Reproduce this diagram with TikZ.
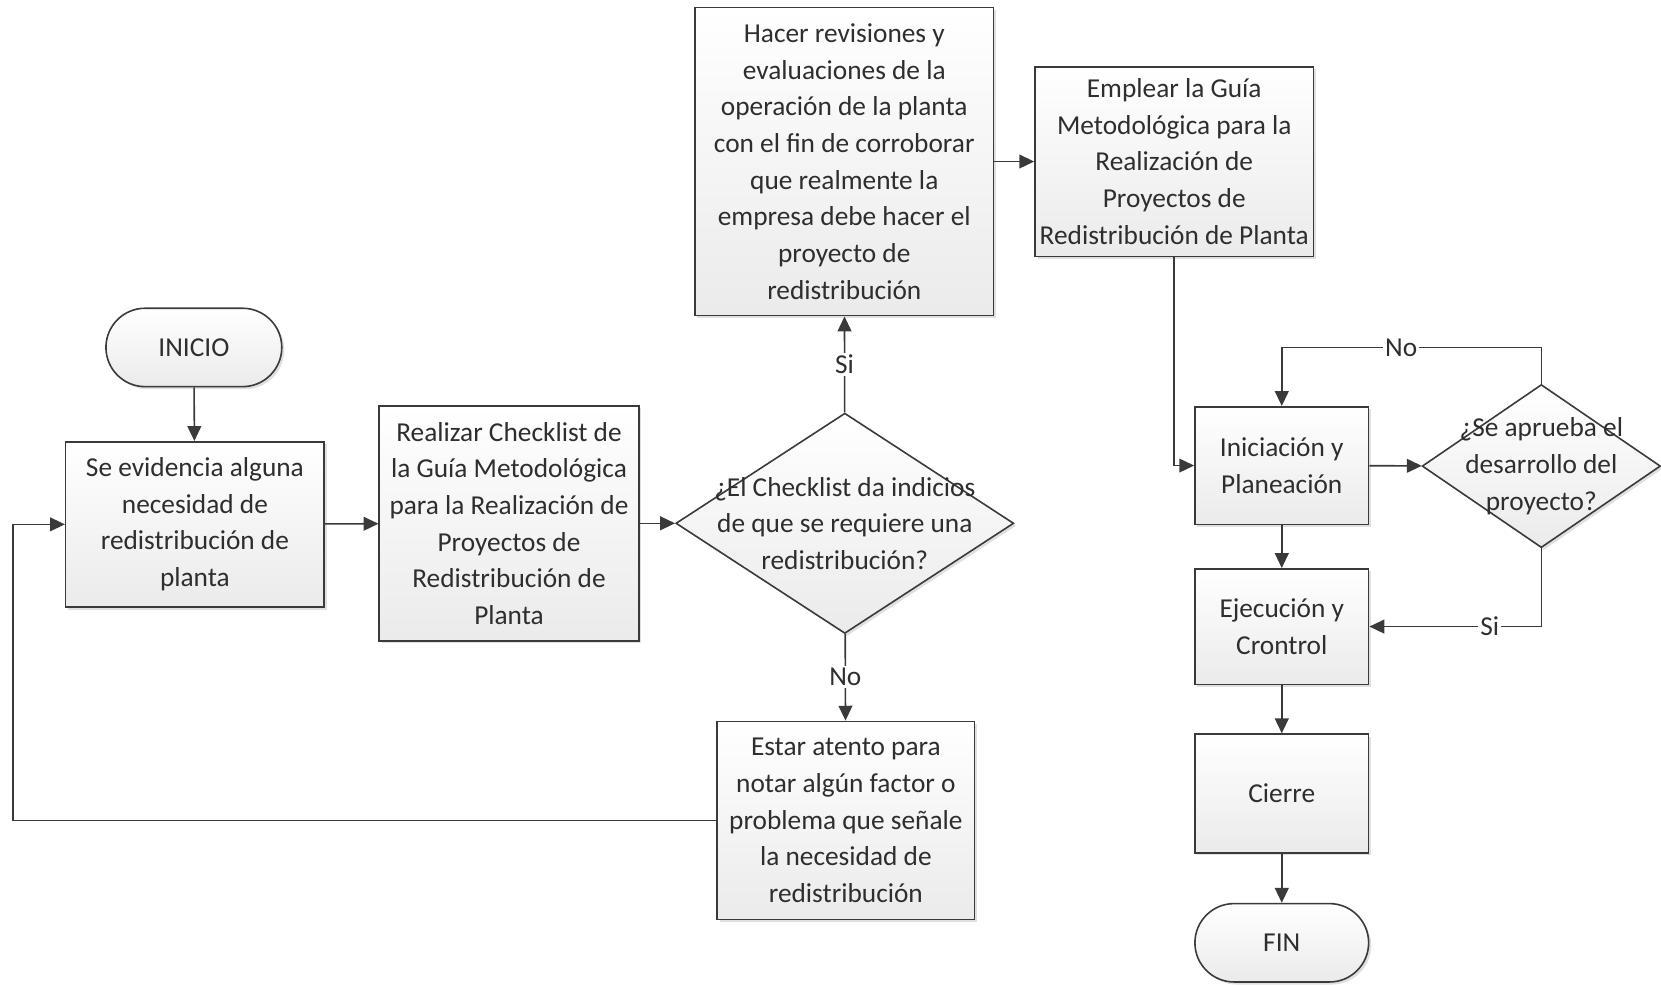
\documentclass[tikz,border=0pt]{standalone}
\usepackage{fontspec}
\setmainfont{Carlito}
\usetikzlibrary{arrows.meta,shadows,shapes.geometric,calc}
\definecolor{ink}{HTML}{3A3A3A}
\definecolor{txt}{HTML}{2E2E2E}
\tikzset{
  base/.style={draw=ink, line width=0.75pt, top color=white, bottom color=black!8,
    drop shadow={shadow xshift=1.2pt, shadow yshift=-1.2pt, fill=black, opacity=0.12},
    text=txt, align=center, inner sep=0pt, font=\fontsize{12.9}{17.3}\selectfont},
  procbox/.style={base, rectangle},
  term/.style={base, rectangle, rounded corners=18.5pt},
  decision/.style={base, diamond, minimum width=#1},
  qtext/.style={text=txt, align=center, inner sep=0pt, font=\fontsize{12.9}{17.3}\selectfont},
  flow/.style={draw=ink, line width=0.75pt, -{Triangle[length=7pt,width=6.5pt]}},
  lbl/.style={fill=white, inner sep=1pt, text=txt, font=\fontsize{12.9}{15}\selectfont},
}
\begin{document}
\begin{tikzpicture}[x=0.5pt, y=-0.5pt]
\useasboundingbox (0,0) rectangle (1568,929);

% start / end terminals
\node[term, minimum width=83pt, minimum height=37pt] (ini) at (183,328) {INICIO};
\node[term, minimum width=82pt, minimum height=37pt] (fin) at (1210,890) {FIN};

% left branch
\node[procbox, minimum width=122pt, minimum height=78pt] (a) at (184,495)
  {Se evidencia alguna\\necesidad de\\redistribución de\\planta};
\node[procbox, minimum width=122.5pt, minimum height=111pt] (b) at (480.5,494)
  {Realizar Checklist de\\la Guía Metodológica\\para la Realización de\\Proyectos de\\Redistribución de\\Planta};

% first decision
\node[decision=159.5pt, minimum height=104pt] (d1) at (797.5,494) {};
\node[qtext] (d1t) at (d1.center)
  {¿El Checklist da indicios\\de que se requiere una\\redistribución?};

\node[procbox, minimum width=141pt, minimum height=145.5pt] (c) at (797,152.5)
  {Hacer revisiones y\\evaluaciones de la\\operación de la planta\\con el fin de corroborar\\que realmente la\\empresa debe hacer el\\proyecto de\\redistribución};
\node[procbox, minimum width=131.5pt, minimum height=89.5pt] (e) at (1108.5,152.5)
  {Emplear la Guía\\Metodológica para la\\Realización de\\Proyectos de\\Redistribución de Planta};
\node[procbox, minimum width=121.5pt, minimum height=93.5pt] (f) at (798.5,774.5)
  {Estar atento para\\notar algún factor o\\problema que señale\\la necesidad de\\redistribución};

% project phases
\node[procbox, minimum width=82pt, minimum height=55.5pt] (g) at (1210,439.5)
  {Iniciación y\\Planeación};
\node[decision=112.5pt, minimum height=77pt] (d2) at (1455,440) {};
\node[qtext] (d2t) at (d2.center) {¿Se aprueba el\\desarrollo del\\proyecto?};
\node[procbox, minimum width=82pt, minimum height=54.5pt] (h) at (1210,591.5)
  {Ejecución y\\Crontrol};
\node[procbox, minimum width=82pt, minimum height=56pt] (i) at (1210,749) {Cierre};

% connectors
\draw[flow] (ini) -- (a);
\draw[flow] (a) -- (b);
\draw[flow] (b) -- (d1);
\draw[flow] (d1) -- node[lbl]{Si} (c);
\draw[flow] (d1) -- node[lbl]{No} (f);
\coordinate (loopL) at (12,774.5);
\draw[flow] (f.west) -- (loopL) |- (a.west);
\draw[flow] (c) -- (e);
\draw[flow] (e.south) |- (g.west);
\draw[flow] (g) -- (d2);
\coordinate (noTop) at (1455,328);
\draw[flow] (d2.north) -- (noTop) -- node[lbl, pos=0.54]{No} (noTop -| g.north) -- (g.north);
\draw[flow] (d2.south) |- node[lbl, pos=0.65]{Si} (h.east);
\draw[flow] (g) -- (h);
\draw[flow] (h) -- (i);
\draw[flow] (i) -- (fin);
\end{tikzpicture}
\end{document}
